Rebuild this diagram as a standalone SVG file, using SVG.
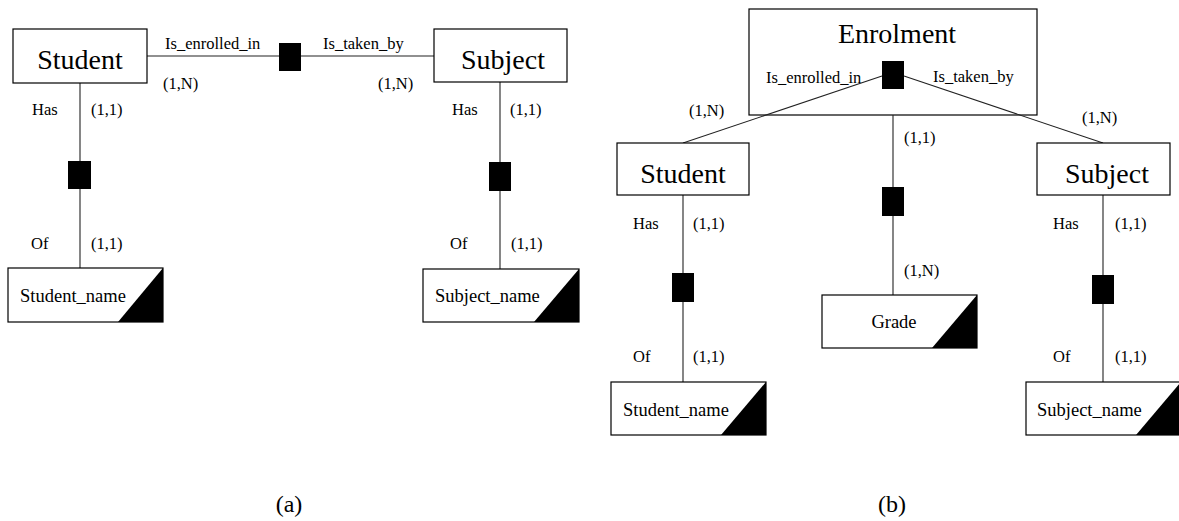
<svg xmlns="http://www.w3.org/2000/svg" width="1179" height="521" viewBox="0 0 1179 521">
<style>
.ent{fill:#fff;stroke:#000;stroke-width:1.2}
.rel{fill:#000;stroke:none}
.tri{fill:#000}
.ln{stroke:#222;stroke-width:1.1;fill:none}
text{font-family:"Liberation Serif","Times New Roman",serif;fill:#000}
.big{font-size:28px}
.att{font-size:18.5px}
.lab{font-size:16.5px}
.cap{font-size:24px}
</style>
<rect width="1179" height="521" fill="#fff"/>
<g id="b-enrolment-box">
<rect x="749" y="9" width="288" height="106" fill="#fff" stroke="#000" stroke-width="1.2"/>
</g>
<g id="connectors">
<line class="ln" x1="147" y1="56" x2="434" y2="56"/>
<line class="ln" x1="80" y1="83" x2="80" y2="268"/>
<line class="ln" x1="500" y1="82" x2="500" y2="269"/>
<line class="ln" x1="882" y1="76" x2="683" y2="143"/>
<line class="ln" x1="904" y1="76" x2="1103" y2="143"/>
<line class="ln" x1="893" y1="115" x2="893" y2="295"/>
<line class="ln" x1="683" y1="195" x2="683" y2="382"/>
<line class="ln" x1="1103" y1="195" x2="1103" y2="382"/>
</g>
<g id="a-student">
<rect class="ent" x="13" y="29" width="134" height="54"/>
<text class="big" x="80" y="69" text-anchor="middle">Student</text>
</g>
<g id="a-subject">
<rect class="ent" x="434" y="29" width="133" height="53"/>
<text class="big" x="503" y="69" text-anchor="middle">Subject</text>
</g>
<g id="a-enrolment-rel">
<rect class="rel" x="279" y="43" width="22" height="28"/>
<text class="lab" x="165" y="49">Is_enrolled_in</text>
<text class="lab" x="323" y="49">Is_taken_by</text>
<text class="lab" x="163" y="89">(1,N)</text>
<text class="lab" x="378" y="89">(1,N)</text>
</g>
<g id="a-student-has">
<rect class="rel" x="68" y="161" width="23" height="28"/>
<text class="lab" x="32" y="115">Has</text>
<text class="lab" x="91" y="115">(1,1)</text>
<text class="lab" x="31" y="249">Of</text>
<text class="lab" x="91" y="249">(1,1)</text>
</g>
<g id="a-student-name">
<rect class="ent" x="8" y="268" width="155" height="54"/>
<polygon class="tri" points="118,322 163,268 163,322"/>
<text class="att" x="20" y="302">Student_name</text>
</g>
<g id="a-subject-has">
<rect class="rel" x="489" y="162" width="22" height="29"/>
<text class="lab" x="452" y="115">Has</text>
<text class="lab" x="510" y="115">(1,1)</text>
<text class="lab" x="450" y="249">Of</text>
<text class="lab" x="511" y="249">(1,1)</text>
</g>
<g id="a-subject-name">
<rect class="ent" x="423" y="269" width="156" height="53"/>
<polygon class="tri" points="534,322 579,269 579,322"/>
<text class="att" x="435" y="302">Subject_name</text>
</g>
<g id="b-enrolment">
<text class="big" x="897" y="43" text-anchor="middle">Enrolment</text>
<rect class="rel" x="882" y="61" width="22" height="28"/>
<text class="lab" x="766" y="83">Is_enrolled_in</text>
<text class="lab" x="933" y="82">Is_taken_by</text>
<text class="lab" x="689" y="116">(1,N)</text>
<text class="lab" x="1082" y="123">(1,N)</text>
</g>
<g id="b-student">
<rect class="ent" x="617" y="143" width="132" height="52"/>
<text class="big" x="683" y="183" text-anchor="middle">Student</text>
</g>
<g id="b-subject">
<rect class="ent" x="1037" y="143" width="133" height="52"/>
<text class="big" x="1107" y="183" text-anchor="middle">Subject</text>
</g>
<g id="b-grade-rel">
<rect class="rel" x="882" y="187" width="22" height="29"/>
<text class="lab" x="904" y="143">(1,1)</text>
<text class="lab" x="904" y="276">(1,N)</text>
</g>
<g id="b-grade">
<rect class="ent" x="822" y="295" width="155" height="53"/>
<polygon class="tri" points="932,348 977,295 977,348"/>
<text class="att" x="894" y="328" text-anchor="middle">Grade</text>
</g>
<g id="b-student-has">
<rect class="rel" x="672" y="273" width="22" height="29"/>
<text class="lab" x="633" y="229">Has</text>
<text class="lab" x="693" y="229">(1,1)</text>
<text class="lab" x="633" y="362">Of</text>
<text class="lab" x="693" y="362">(1,1)</text>
</g>
<g id="b-student-name">
<rect class="ent" x="611" y="382" width="155" height="53"/>
<polygon class="tri" points="721,435 766,382 766,435"/>
<text class="att" x="623" y="416">Student_name</text>
</g>
<g id="b-subject-has">
<rect class="rel" x="1092" y="275" width="22" height="29"/>
<text class="lab" x="1053" y="229">Has</text>
<text class="lab" x="1115" y="229">(1,1)</text>
<text class="lab" x="1053" y="362">Of</text>
<text class="lab" x="1115" y="362">(1,1)</text>
</g>
<g id="b-subject-name">
<rect class="ent" x="1026" y="382" width="155" height="53"/>
<polygon class="tri" points="1136,435 1181,382 1181,435"/>
<text class="att" x="1037" y="416">Subject_name</text>
</g>
<g id="captions">
<text class="cap" x="289" y="512" text-anchor="middle">(a)</text>
<text class="cap" x="892" y="512" text-anchor="middle">(b)</text>
</g>
</svg>
